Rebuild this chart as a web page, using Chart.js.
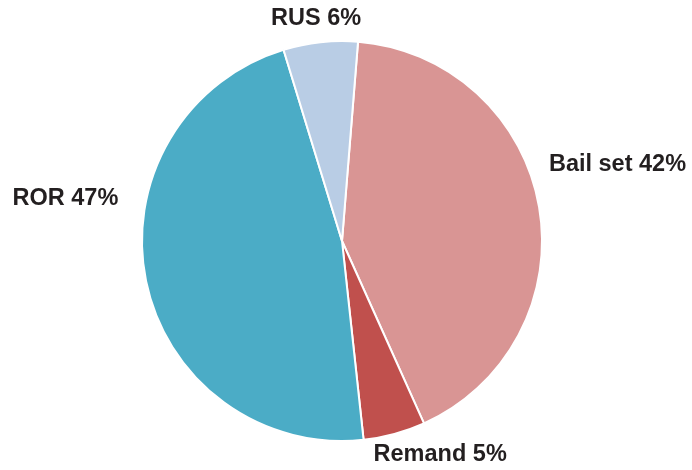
<!DOCTYPE html>
<html lang="en">
<head>
    <meta charset="UTF-8">
    <title>Bail Outcomes</title>
    <script src="https://cdn.jsdelivr.net/npm/chart.js"></script>
    <style>
        html, body { margin: 0; padding: 0; background: #fff; }
        #wrap { width: 692px; height: 470px; }
    </style>
</head>
<body>
    <div id="wrap"><canvas id="pieChart" width="692" height="470"></canvas></div>
    <script>
        // Outcome shares (%)
        const outcomes = ['Bail set', 'Remand', 'ROR', 'RUS'];
        const shares = [42, 5, 47, 6];
        const sliceColors = ['#D99594', '#C0504D', '#4BACC6', '#B9CDE5'];

        // Draw "Name NN%" outside each slice
        const outsideLabels = {
            id: 'outsideLabels',
            afterDatasetsDraw(chart, args, opts) {
                const ctx = chart.ctx;
                const meta = chart.getDatasetMeta(0);
                ctx.save();
                ctx.font = 'bold 23.5px "Liberation Sans", Arial, sans-serif';
                ctx.fillStyle = '#231F20';
                ctx.textBaseline = 'middle';
                meta.data.forEach((arc, i) => {
                    const p = arc.getProps(['x', 'y', 'startAngle', 'endAngle', 'outerRadius'], true);
                    const mid = (p.startAngle + p.endAngle) / 2;
                    const r = p.outerRadius + 12;
                    const cx = Math.cos(mid), sy = Math.sin(mid);
                    const n = opts.nudges[i] || [0, 0];
                    let x = p.x + cx * r + n[0];
                    let y = p.y + sy * r + n[1];
                    ctx.textAlign = Math.abs(cx) < 0.2 ? 'center' : (cx > 0 ? 'left' : 'right');
                    ctx.fillText(outcomes[i] + ' ' + shares[i] + '%', x, y);
                });
                ctx.restore();
            }
        };

        new Chart(document.getElementById('pieChart'), {
            type: 'pie',
            data: {
                labels: outcomes,
                datasets: [{
                    data: shares,
                    backgroundColor: sliceColors,
                    borderColor: '#ffffff',
                    borderWidth: 2
                }]
            },
            options: {
                responsive: false,
                animation: false,
                rotation: 4.6,
                layout: { padding: { left: 141, right: 149, top: 40, bottom: 28 } },
                plugins: {
                    legend: { display: false },
                    tooltip: { enabled: false },
                    outsideLabels: { nudges: [[-2, -40], [-24, 9], [-16, -85], [-3, -12]] }
                }
            },
            plugins: [outsideLabels]
        });
    </script>
</body>
</html>
